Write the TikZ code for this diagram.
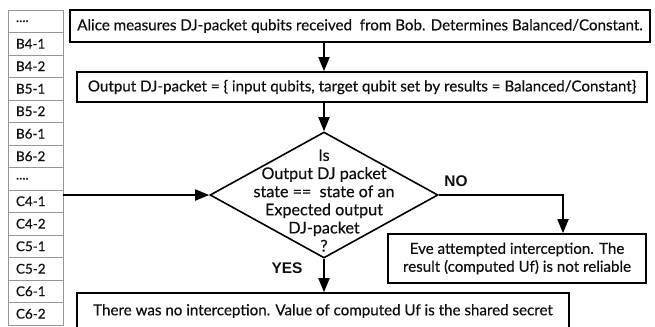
\documentclass[tikz,border=0pt]{standalone}
\usepackage{fontspec}
\setmainfont{Lato}[FakeBold=0.5]
\newfontfamily\etiq{Liberation Sans}
\usepackage{tikz}
\usetikzlibrary{arrows.meta, positioning, shapes.geometric, calc}
\definecolor{gris}{RGB}{150,150,150}
\definecolor{encre}{RGB}{15,15,15}
\newcommand{\pointill}{....}

\begin{document}
\begin{tikzpicture}[x=1bp, y=-1bp, font=\fontsize{15.2}{18}\selectfont, text=encre,
		boite/.style={draw=black, line width=1.6bp, inner sep=0pt, align=center},
		cellule/.style={draw=gris, line width=0.6bp, minimum width=55bp, minimum height=22.5bp,
			inner sep=0pt, text width=39bp, align=left, font=\fontsize{13.5}{15}\selectfont},
		decision/.style={diamond, draw=black, line width=1.6bp, inner sep=0pt,
			minimum width=228bp, minimum height=126bp},
		fleche/.style={line width=1.8bp, -{Triangle[length=14bp, width=11bp]}},
		reponse/.style={font=\etiq\bfseries\fontsize{15.5}{17}\selectfont}]
	
	\useasboundingbox (0,0) rectangle (655,326);
	
	% Tableau
	\foreach \lbl [count=\i] in {\pointill, B4-1, B4-2, B5-1, B5-2, B6-1, B6-2, \pointill, C4-1, C4-2, C5-1, C5-2, C6-1, C6-2}
		\node[cellule] (r\i) at (35.5, {10 + 22.5*\i - 11.25}) {\lbl};
	
	% Boites
	\node[boite, minimum width=580bp, minimum height=32bp] (mesure) at (360,26)
		{Alice measures DJ-packet qubits received\ \ from Bob. Determines Balanced/Constant.};
	\node[boite, minimum width=570bp, minimum height=30bp] (sortie) at (362,87)
		{Output DJ-packet = \{ input qubits, target qubit set by results = Balanced/Constant\}};
	\node[decision] (test) at (324,195) {};
	\node[align=center, font=\fontsize{16.2}{18.2}\selectfont] (question) at (324,200.5)
		{Is\\Output DJ packet\\state ==\ \ state of an\\Expected output\\DJ-packet\\?};
	\node[boite, minimum width=258bp, minimum height=49bp] (eve) at (517,258.5)
		{Eve attempted interception. The\\result (computed Uf) is not reliable};
	\node[boite, minimum width=492bp, minimum height=36bp] (secret) at (323,311)
		{There was no interception. Value of computed Uf is the shared secret};
	
	% Fleches
	\draw[fleche] (mesure.south -| test.north) -- (sortie.north -| test.north);
	\draw[fleche] (sortie.south -| test.north) -- (test.north);
	\draw[fleche] (r9.east |- test.west) -- (test.west);
	\draw[fleche] (test.east) -| ([xshift=46bp]eve.north);
	\draw[fleche] (test.south) -- (secret.north -| test.south);
	
	% Annotations
	\node[reponse] (non) at (456,181) {NO};
	\node[reponse] (oui) at (287,268) {YES};
	
\end{tikzpicture}
\end{document}
